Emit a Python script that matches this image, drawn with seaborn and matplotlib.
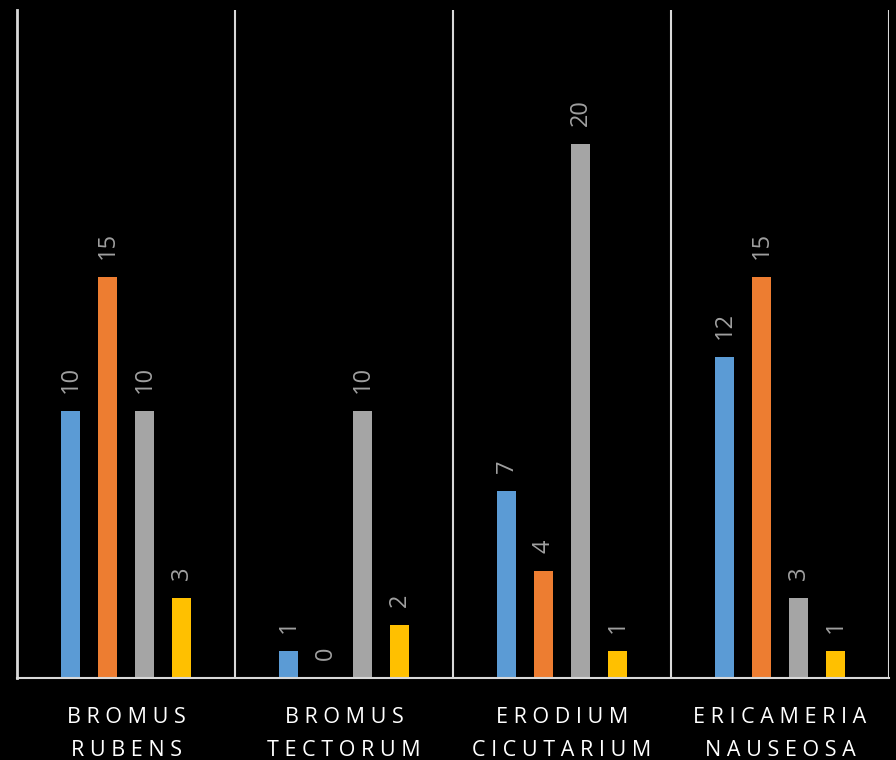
import pandas as pd
import numpy as np
import seaborn as sns
import matplotlib
matplotlib.use("Agg")
import matplotlib.pyplot as plt

# data
species = ["BROMUS\nRUBENS", "BROMUS\nTECTORUM", "ERODIUM\nCICUTARIUM", "ERICAMERIA\nNAUSEOSA"]
series = ["S1", "S2", "S3", "S4"]
s1 = [10, 1, 7, 12]
s2 = [15, 0, 4, 15]
s3 = [10, 10, 20, 3]
s4 = [3, 2, 1, 1]
colors = ["#5B9BD5", "#ED7D31", "#A5A5A5", "#FFC000"]

rows = []
for name, vals in zip(series, [s1, s2, s3, s4]):
    for sp, v in zip(species, vals):
        rows.append({"species": sp, "series": name, "value": v})
df = pd.DataFrame(rows)

sns.set_style("dark")
plt.rcParams['font.family'] = ['Open Sans', 'DejaVu Sans']

fig = plt.figure(figsize=(8.96, 7.6), dpi=100, facecolor="black")
ax = fig.add_axes([17/896, 82/760, 872/896, 668/760])
ax.set_facecolor("black")

sns.barplot(data=df, x="species", y="value", hue="series", order=species,
            hue_order=series, palette=colors, width=0.68, gap=0.49,
            legend=False, ax=ax, errorbar=None, saturation=1, linewidth=0)

for c in ax.containers:
    ax.bar_label(c, rotation=90, padding=13, color="#A0A0A0", fontsize=17)

ax.set_xlim(-0.5, 3.5)
ax.set_ylim(0, 25)
ax.set_yticks([])
ax.set_xlabel("")
ax.set_ylabel("")

# spaced-out uppercase labels
spaced = ["\n".join(" ".join(w) for w in s.split("\n")) for s in species]
ax.set_xticks(range(len(species)))
ax.set_xticklabels(spaced, color="white", fontsize=15.5, linespacing=1.75)
ax.tick_params(axis="x", length=0, pad=21)

for sp in ["top", "right"]:
    ax.spines[sp].set_visible(False)
ax.spines["left"].set_color("#D9D9D9")
ax.spines["left"].set_linewidth(2)
ax.spines["bottom"].set_color("#D9D9D9")
ax.spines["bottom"].set_linewidth(1.5)
for xv in [0.5, 1.5, 2.5, 3.5]:
    ax.axvline(xv, color="#D9D9D9", linewidth=1.5)
ax.grid(False)

fig.savefig("out.png", dpi=100, facecolor="black")
